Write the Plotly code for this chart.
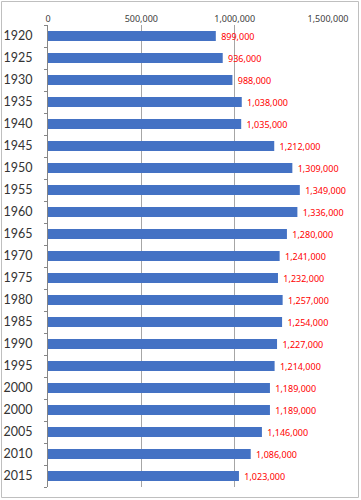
import plotly.graph_objects as go

years = ["1920", "1925", "1930", "1935", "1940", "1945", "1950", "1955", "1960", "1965",
         "1970", "1975", "1980", "1985", "1990", "1995", "2000", "2000", "2005", "2010", "2015"]
population = [899000, 936000, 988000, 1038000, 1035000, 1212000, 1309000, 1349000, 1336000, 1280000,
              1241000, 1232000, 1257000, 1254000, 1227000, 1214000, 1189000, 1189000, 1146000, 1086000, 1023000]
x_ticks = [0, 500000, 1000000, 1500000]
x_ticklabels = ["0", "500,000", "1,000,000", "1,500,000"]

positions = list(range(len(years)))

fig = go.Figure(go.Bar(
    x=population, y=positions, orientation="h",
    width=0.45,
    marker=dict(color="#4472C4", line=dict(width=0)),
    text=["\u00a0" + f"{v:,}" for v in population],
    textposition="outside",
    constraintext="none",
    textfont=dict(color="#FF0000", size=9, family="Noto Sans"),
    cliponaxis=False,
))

W, H = 361, 500
ml, mr, mt, mb = 48, 33, 25, 13
pw, ph = W - ml - mr, H - mt - mb

fig.update_layout(
    width=W, height=H,
    margin=dict(l=ml, r=mr, t=mt, b=mb),
    paper_bgcolor="white", plot_bgcolor="white",
    showlegend=False,
    xaxis=dict(
        side="top", range=[0, 1500000], tickvals=x_ticks, ticktext=x_ticklabels,
        showgrid=True, gridcolor="#A6A6A6", gridwidth=1, zeroline=False,
        showline=False, ticks="", tickfont=dict(size=9, color="#404040", family="Noto Sans"),
        automargin=False, fixedrange=True,
    ),
    yaxis=dict(
        range=[len(years) - 0.5, -0.5], tickmode="array", tickvals=positions, ticktext=years,
        showgrid=False, zeroline=False, showline=True, linecolor="#868686", linewidth=1,
        ticks="", tickfont=dict(size=12.5, color="#333333", family="Lato"),
        ticklabelstandoff=12,
        minor=dict(tickmode="array", tickvals=[p + 0.5 for p in range(-1, len(years))],
                   ticks="outside", ticklen=3, tickcolor="#868686", tickwidth=1),
        automargin=False, fixedrange=True,
    ),
    shapes=[dict(
        type="rect", xref="paper", yref="paper",
        x0=-(ml - 1.5) / pw, x1=1 + (mr - 2.5) / pw,
        y0=-(mb - 2.5) / ph, y1=1 + (mt - 1.5) / ph,
        line=dict(color="#BFBFBF", width=1), fillcolor="rgba(0,0,0,0)", layer="below",
    )],
)

fig.write_html("out.html", config={"displayModeBar": False},
               post_script="document.body.style.margin='0';document.body.style.padding='0';")
